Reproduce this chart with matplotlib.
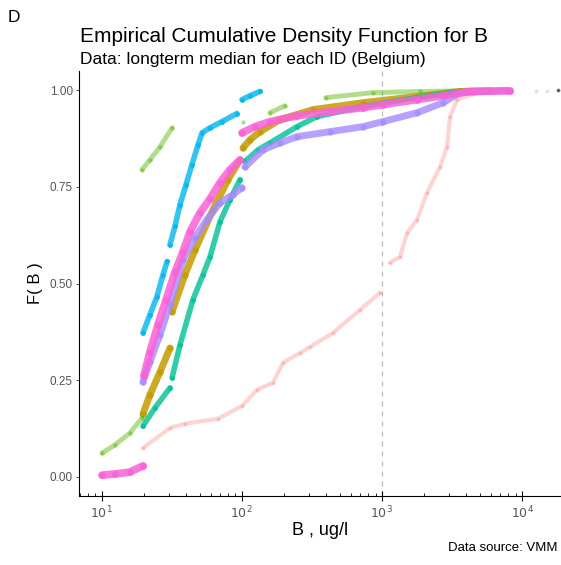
import numpy as np
import matplotlib.pyplot as plt
from matplotlib.ticker import LogLocator, NullFormatter, FixedLocator

plt.rcParams['font.family'] = ['Liberation Sans', 'DejaVu Sans']

nan = np.nan

# ECDF of the longterm median per ID, one group per colour
pink_x = [19.7, 30.7, 39.3, 67.6, 100.3, 128.4, 167.0, 196.8, 260.3, 306.8, 447.7, 697.9, 969.2, nan,
          1142, 1346, 1511, 1780, 2099, 2598, 2915, 3063, 3436, 4500, nan, 12500, nan, 15000]
pink_f = [0.074, 0.126, 0.137, 0.150, 0.183, 0.225, 0.243, 0.295, 0.320, 0.336, 0.372, 0.432, 0.476, nan,
          0.554, 0.569, 0.631, 0.665, 0.735, 0.802, 0.854, 0.932, 0.976, 0.990, nan, 0.997, nan, 0.999]

olive_x = [19.7, 22.1, 26.1, 30.7, nan, 31.8, 39.3, 46.4, 62.3, 79.7, 97.1, nan,
           102.0, 114.4, 134.9, 187.3, 322, 733, 1780, 3609, 5908]
olive_f = [0.162, 0.212, 0.271, 0.333, nan, 0.427, 0.523, 0.587, 0.691, 0.769, 0.820, nan,
           0.851, 0.872, 0.893, 0.924, 0.950, 0.968, 0.984, 0.997, 0.999]

green_x = [10.05, 12.4, 15.9, 19.4, nan, 19.4, 22.1, 26.1, 31.8, nan, 102, nan, 159, 203, nan,
           397, 863, 1870, 4255]
green_f = [0.061, 0.082, 0.113, 0.152, nan, 0.795, 0.820, 0.854, 0.903, nan, 0.919, nan, 0.942, 0.960, nan,
           0.981, 0.994, 0.997, 0.999]

teal_x = [19.7, 24.0, 30.7, nan, 31.8, 36.2, 44.8, 52.9, 59.3, 69.9, 82.4, 97.1, nan,
          105.4, 130.5, 159.0, 247.7, 344, 733, 1780, 3609]
teal_f = [0.131, 0.178, 0.230, nan, 0.256, 0.341, 0.458, 0.523, 0.569, 0.660, 0.717, 0.769, nan,
          0.816, 0.846, 0.864, 0.906, 0.932, 0.958, 0.981, 0.997]

cyan_x = [19.7, 22.1, 24.8, 27.4, 29.3, nan, 30.7, 33.4, 36.2, 40.0, 44.1, 48.7, 52.0, 59.3, 72.2, 92.4, nan,
          100.3, 114.4, 134.9]
cyan_f = [0.372, 0.419, 0.466, 0.523, 0.557, nan, 0.600, 0.649, 0.704, 0.756, 0.808, 0.859, 0.890, 0.903, 0.919, 0.940, nan,
          0.976, 0.986, 0.997]

purple_x = [19.7, 22.1, 26.1, 30.7, 38.0, 46.4, 56.4, 69.9, 86.5, 100.3, nan,
            105.4, 141.7, 187.3, 247.7, 426, 733, 1018, 1780, 2730, 3609, 5625, 7815]
purple_f = [0.245, 0.297, 0.368, 0.446, 0.562, 0.619, 0.665, 0.709, 0.730, 0.748, nan,
            0.802, 0.846, 0.864, 0.880, 0.893, 0.906, 0.919, 0.942, 0.968, 0.994, 0.997, 0.999]

magenta_x = [10.05, 12.4, 15.9, 19.7, nan, 20.0, 22.1, 25.2, 28.8, 33.4, 38.0, 42.7, 50.3, 59.3, 69.9, 82.4, 97.1, nan,
             100.3, 124.2, 159.0, 247.7, 426, 733, 1018, 1780, 2730, 4255, 8211]
magenta_f = [0.004, 0.007, 0.012, 0.028, nan, 0.261, 0.323, 0.393, 0.458, 0.530, 0.582, 0.634, 0.683, 0.719, 0.761, 0.795, 0.820, nan,
             0.890, 0.906, 0.919, 0.934, 0.945, 0.955, 0.963, 0.976, 0.986, 0.997, 0.999]

grey_x = [18000]
grey_f = [1.0]

groups = [
    (pink_x, pink_f, '#F8766D', 0.3, 3.0),
    (olive_x, olive_f, '#C49A00', 0.85, 5.0),
    (green_x, green_f, '#53B400', 0.45, 3.5),
    (teal_x, teal_f, '#00C094', 0.8, 4.0),
    (cyan_x, cyan_f, '#00B6EB', 0.8, 4.0),
    (purple_x, purple_f, '#A58AFF', 0.8, 5.0),
    (magenta_x, magenta_f, '#FB61D7', 0.85, 5.5),
    (grey_x, grey_f, '#555555', 0.9, 3.0),
]

fig = plt.figure(figsize=(5.61, 5.65), dpi=100)
ax = fig.add_axes([79 / 561, 69 / 565, 482 / 561, 425 / 565])

for x, f, col, a, lw in groups:
    ax.plot(x, f, color=col, alpha=a, lw=lw, solid_capstyle='round',
            marker='o', ms=lw * 0.9, mew=0, zorder=3)

ax.axvline(1000, color='#BBBBBB', ls=(0, (4, 4)), lw=0.9, zorder=1)

ax.set_xscale('log')
ax.set_xlim(6.89, 18960)
ax.set_ylim(-0.05, 1.05)

ax.set_yticks([0, 0.25, 0.5, 0.75, 1.0])
ax.set_yticklabels(['0.00', '0.25', '0.50', '0.75', '1.00'])
ax.xaxis.set_major_locator(FixedLocator([10, 100, 1000, 10000]))
ax.set_xticklabels(['$10^1$', '$10^2$', '$10^3$', '$10^4$'])
ax.xaxis.set_minor_locator(LogLocator(base=10, subs=np.arange(2, 10)))
ax.xaxis.set_minor_formatter(NullFormatter())

for s in ['top', 'right']:
    ax.spines[s].set_visible(False)
for s in ['left', 'bottom']:
    ax.spines[s].set_linewidth(0.8)
    ax.spines[s].set_color('black')

ax.tick_params(axis='y', length=2.5, width=0.6, color='#333333', labelcolor='#555555', labelsize=8.5, pad=2)
ax.tick_params(axis='x', which='major', direction='inout', length=7, width=0.8,
               labelcolor='#555555', labelsize=9, pad=3)
ax.tick_params(axis='x', which='minor', direction='in', length=2.5, width=0.6)

ax.set_xlabel('B , ug/l', fontsize=13, labelpad=0)
ax.set_ylabel('F( B )', fontsize=12, labelpad=5)

fig.text(8 / 561, 1 - 17 / 565, 'D', fontsize=12.5, va='center', ha='left')
fig.text(80 / 561, 1 - 37 / 565, 'Empirical Cumulative Density Function for B',
         fontsize=15, va='center', ha='left')
fig.text(80 / 561, 1 - 60 / 565, 'Data: longterm median for each ID (Belgium)',
         fontsize=12.5, va='center', ha='left')
fig.text(558 / 561, 1 - 548 / 565, 'Data source: VMM', fontsize=9.5, va='center', ha='right')

fig.savefig('out.png', dpi=100)
